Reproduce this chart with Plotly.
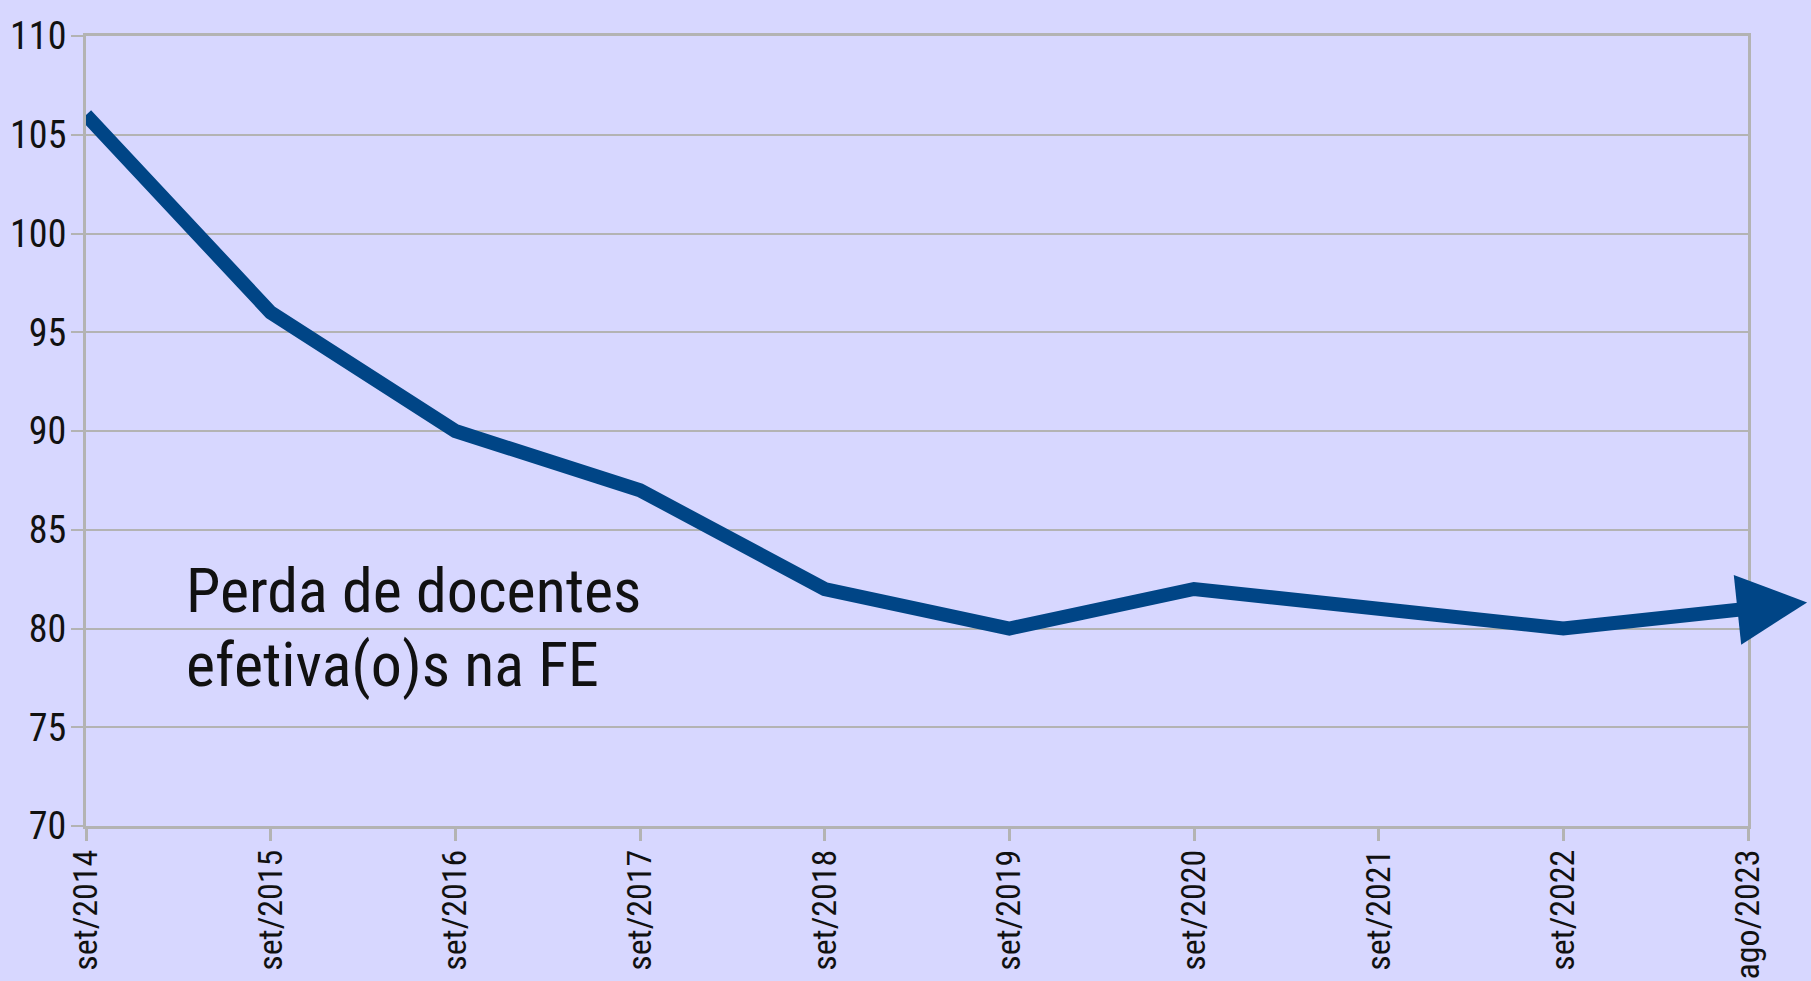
import plotly.graph_objects as go

categories = ["set/2014", "set/2015", "set/2016", "set/2017", "set/2018",
              "set/2019", "set/2020", "set/2021", "set/2022", "ago/2023"]
docentes = [106, 96, 90, 87, 82, 80, 82, 81, 80, 81]
y_ticks = [70, 75, 80, 85, 90, 95, 100, 105, 110]
label_lines = ["Perda de docentes", "efetiva(o)s na FE"]

BG = "#D7D7FF"
LINE = "#004586"
GRID = "#B3B3B3"
FONT = "Roboto Condensed, Liberation Sans Narrow, sans-serif"
TXT = "#111111"

fig = go.Figure()
fig.add_trace(go.Scatter(
    x=list(range(len(categories))), y=docentes, mode="lines",
    line=dict(color=LINE, width=14), hoverinfo="skip", showlegend=False,
))

# arrow continuing the last segment beyond the last category
n = len(docentes) - 1
ext = 0.32
end_x = n + ext
end_y = docentes[-1] + ext * (docentes[-1] - docentes[-2])
fig.add_annotation(
    x=end_x, y=end_y, ax=n, ay=docentes[-1], xref="x", yref="y",
    axref="x", ayref="y", showarrow=True, arrowhead=2, arrowsize=1.0,
    arrowwidth=14, arrowcolor=LINE, text="",
)

for i, (txt, ypos) in enumerate(zip(label_lines, [0.2985, 0.2045])):
    fig.add_annotation(
        x=0.059, y=ypos, xref="paper", yref="paper", xanchor="left",
        yanchor="middle", align="left", showarrow=False, text=txt,
        font=dict(family=FONT, size=62, color=TXT),
    )

fig.update_xaxes(
    tickmode="array", tickvals=list(range(len(categories))), ticktext=categories,
    range=[0, n], tickangle=-90, showgrid=False, showline=True, linecolor=GRID,
    linewidth=3, mirror=True, ticks="outside", ticklen=12, tickwidth=3,
    tickcolor=GRID, tickfont=dict(family=FONT, size=34, color=TXT),
    zeroline=False, automargin=False, ticklabelstandoff=-5,
)
fig.update_yaxes(
    tickmode="array", tickvals=y_ticks, ticktext=[str(v) for v in y_ticks],
    range=[70, 110], showgrid=True, gridcolor=GRID, gridwidth=2,
    showline=True, linecolor=GRID, linewidth=3, mirror=True, ticks="outside",
    ticklen=12, tickwidth=2, tickcolor=GRID,
    tickfont=dict(family=FONT, size=38, color=TXT), zeroline=False,
    automargin=False, ticklabelstandoff=-3,
)
fig.update_layout(
    width=1811, height=981, paper_bgcolor=BG, plot_bgcolor=BG,
    margin=dict(l=86, r=63, t=36, b=155),
)
fig.write_html("out.html", config={"displayModeBar": False},
               post_script="document.body.style.margin='0'")
